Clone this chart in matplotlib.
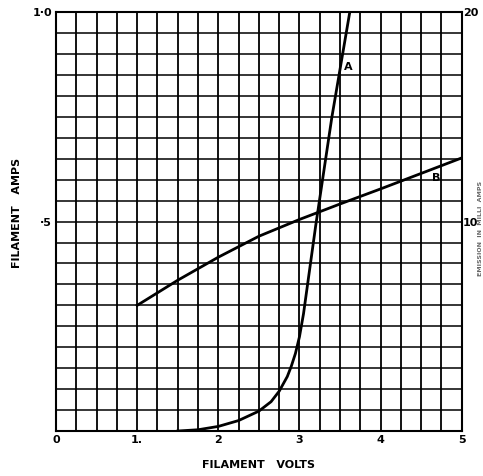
import matplotlib
matplotlib.use("Agg")
import matplotlib.pyplot as plt
import numpy as np

# Curve B: filament amps vs filament volts (left axis)
volts_b = [1.0, 1.5, 2.0, 2.5, 3.0, 3.5, 4.0, 4.5, 5.0]
amps_b = [0.30, 0.36, 0.415, 0.465, 0.505, 0.542, 0.578, 0.615, 0.652]

# Curve A: emission in milliamps vs filament volts (right axis)
volts_a = [1.5, 1.75, 2.0, 2.25, 2.5, 2.65, 2.75, 2.85, 2.9, 2.95, 3.0, 3.05, 3.1, 3.2, 3.4, 3.62]
ma_a = [0.0, 0.06, 0.22, 0.5, 0.95, 1.4, 1.9, 2.6, 3.1, 3.7, 4.5, 5.6, 7.0, 9.8, 15.0, 20.0]

x_ticks = [0, 1, 2, 3, 4, 5]
x_tick_labels = ["0", "1.", "2", "3", "4", "5"]
left_ticks = [0.5, 1.0]
left_tick_labels = ["·5", "1·0"]
right_ticks = [10, 20]
right_tick_labels = ["10", "20"]

fig = plt.figure(figsize=(4.83, 4.76), dpi=100)
ax = fig.add_axes([0.116, 0.0945, 0.84, 0.88])
ax.set_xlim(0, 5)
ax.set_ylim(0, 1.0)

# graph-paper grid
for xv in np.arange(0, 5.001, 0.25):
    ax.axvline(xv, color="black", lw=1.3, zorder=1)
for yv in np.arange(0, 1.001, 0.05):
    ax.axhline(yv, color="black", lw=1.1, zorder=1)
for s in ax.spines.values():
    s.set_linewidth(1.5)

ax.set_xticks(x_ticks)
ax.set_xticklabels(x_tick_labels, fontsize=8, fontweight="bold")
ax.set_yticks(left_ticks)
ax.set_yticklabels(left_tick_labels, fontsize=8, fontweight="bold")
ax.tick_params(length=0, pad=3)

ax.plot(volts_b, amps_b, color="black", lw=2, zorder=3)
ax.text(4.68, 0.605, "B", fontsize=8, fontweight="bold", ha="center", va="center")

ax2 = ax.twinx()
ax2.set_ylim(0, 20)
ax2.set_yticks(right_ticks)
ax2.set_yticklabels(right_tick_labels, fontsize=8, fontweight="bold")
ax2.tick_params(length=0, pad=1)
for s in ax2.spines.values():
    s.set_visible(False)
ax2.plot(volts_a, ma_a, color="black", lw=2, zorder=3, solid_joinstyle="round")
ax2.text(3.6, 17.4, "A", fontsize=8, fontweight="bold", ha="center", va="center")

ax.set_xlabel("FILAMENT   VOLTS", fontsize=8, fontweight="bold")
ax.xaxis.set_label_coords(0.5, -0.07)
ax.set_ylabel("FILAMENT   AMPS", fontsize=8, fontweight="bold")
ax.yaxis.set_label_coords(-0.085, 0.52)

fig.text(480.5 / 483, 0.52, "EMISSION  IN  MILLI  AMPS", rotation=90, fontsize=4.5,
         fontweight="bold", ha="center", va="center", color="#666666")

fig.savefig("out.png", dpi=100, facecolor="white")
